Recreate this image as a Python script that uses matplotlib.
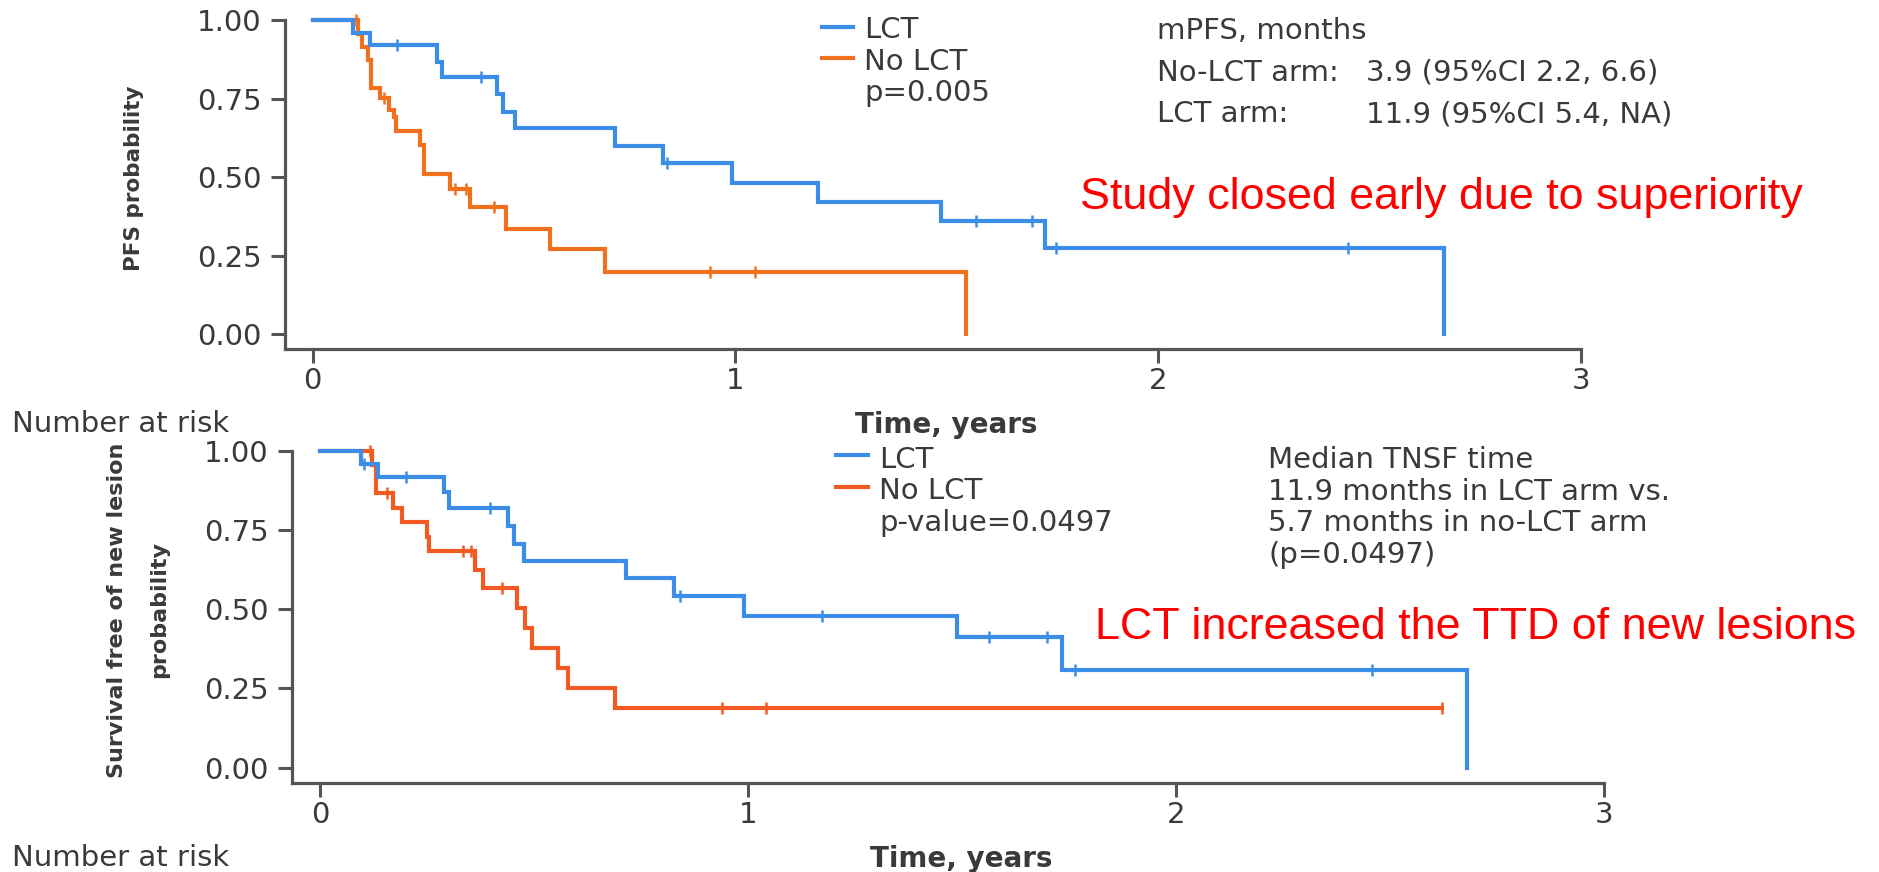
import numpy as np
import matplotlib
matplotlib.use("Agg")
import matplotlib.pyplot as plt
from matplotlib.lines import Line2D

# ---------------- data ----------------
# Top panel: PFS
pfs_lct_t = [0, 0.095, 0.136, 0.295, 0.306, 0.436, 0.450, 0.478, 0.716, 0.830, 0.992, 1.196, 1.487, 1.733, 2.677]
pfs_lct_s = [1.0, 0.96, 0.92, 0.867, 0.819, 0.766, 0.708, 0.655, 0.600, 0.545, 0.482, 0.421, 0.361, 0.273, 0.0]
pfs_lct_cens = [0.199, 0.398, 0.838, 1.570, 1.701, 1.758, 2.450]

pfs_no_t = [0, 0.108, 0.116, 0.132, 0.138, 0.160, 0.182, 0.193, 0.197, 0.254, 0.264, 0.326, 0.372, 0.458, 0.562, 0.692, 1.546]
pfs_no_s = [1.0, 0.957, 0.915, 0.873, 0.783, 0.751, 0.713, 0.692, 0.648, 0.602, 0.510, 0.461, 0.404, 0.336, 0.270, 0.199, 0.0]
pfs_no_cens = [0.103, 0.170, 0.337, 0.362, 0.430, 0.939, 1.046]

# Bottom panel: survival free of new lesion
nl_lct_t = [0, 0.095, 0.134, 0.289, 0.300, 0.438, 0.452, 0.476, 0.714, 0.826, 0.990, 1.489, 1.734, 2.680]
nl_lct_s = [1.0, 0.957, 0.916, 0.870, 0.818, 0.762, 0.707, 0.652, 0.597, 0.541, 0.478, 0.411, 0.308, 0.0]
nl_lct_cens = [0.102, 0.200, 0.397, 0.841, 1.172, 1.562, 1.698, 1.763, 2.457]

nl_no_t = [0, 0.120, 0.130, 0.171, 0.192, 0.249, 0.255, 0.362, 0.380, 0.461, 0.479, 0.496, 0.556, 0.580, 0.689, 2.621]
nl_no_s = [1.0, 0.955, 0.866, 0.818, 0.776, 0.729, 0.684, 0.624, 0.568, 0.503, 0.440, 0.377, 0.314, 0.250, 0.187, 0.187]
nl_no_cens = [0.116, 0.157, 0.334, 0.352, 0.424, 0.938, 1.042, 2.621]

x_ticks = [0, 1, 2, 3]
x_ticklabels = ["0", "1", "2", "3"]
y_ticks = [0.0, 0.25, 0.5, 0.75, 1.0]
y_ticklabels = ["0.00", "0.25", "0.50", "0.75", "1.00"]

legend_labels = ["LCT", "No LCT"]
top_p = "p=0.005"
bot_p = "p-value=0.0497"
top_block = ["mPFS, months", "No-LCT arm:", "LCT arm:"]
top_block_vals = ["3.9 (95%CI 2.2, 6.6)", "11.9 (95%CI 5.4, NA)"]
bot_block = ["Median TNSF time", "11.9 months in LCT arm vs.",
             "5.7 months in no-LCT arm", "(p=0.0497)"]
top_red = "Study closed early due to superiority"
bot_red = "LCT increased the TTD of new lesions"

# ---------------- style ----------------
BLUE = "#3B8DE8"
ORANGE_TOP = "#F0701E"
ORANGE_BOT = "#F15B22"
GRAY = "#3a3a3a"
AXC = "#555555"
RED = "#FF0000"
SANS = "DejaVu Sans"
TXT = 21

W, H = 1879, 872
DPI = 100
fig = plt.figure(figsize=(W / DPI, H / DPI), dpi=DPI)
fig.patch.set_facecolor("white")


def add_axes_px(x0px, pxyr, y0px, pxunit, xlim, ylim):
    left = x0px + xlim[0] * pxyr
    right = x0px + xlim[1] * pxyr
    bottom = y0px - ylim[0] * pxunit
    top = y0px - ylim[1] * pxunit
    ax = fig.add_axes([left / W, 1 - bottom / H, (right - left) / W, (bottom - top) / H])
    ax.set_xlim(*xlim)
    ax.set_ylim(*ylim)
    return ax


def style_axes(ax, xlim, ylim):
    for s in ("top", "right"):
        ax.spines[s].set_visible(False)
    for s in ("left", "bottom"):
        ax.spines[s].set_color(AXC)
        ax.spines[s].set_linewidth(2.3)
    ax.spines["left"].set_bounds(ylim[0], 1.0)
    ax.spines["bottom"].set_bounds(xlim[0], 3.0)
    ax.set_xticks(x_ticks)
    ax.set_xticklabels(x_ticklabels)
    ax.set_yticks(y_ticks)
    ax.set_yticklabels(y_ticklabels)
    ax.tick_params(axis="both", length=10, width=2.2, color=AXC, labelsize=21,
                   labelcolor=GRAY)
    ax.tick_params(axis="x", pad=3)
    ax.tick_params(axis="y", pad=7)
    for lab in ax.get_xticklabels() + ax.get_yticklabels():
        lab.set_family(SANS)
    ax.patch.set_alpha(0)


def km(ax, t, s, cens, color):
    t = np.asarray(t, float)
    s = np.asarray(s, float)
    ax.step(t, s, where="post", color=color, lw=3.0, solid_joinstyle="miter",
            clip_on=False)
    c = np.asarray(cens, float)
    idx = np.searchsorted(t, c, side="right") - 1
    ax.plot(c, s[idx], ls="none", marker="|", ms=8, mew=1.8, color=color,
            clip_on=False)


def ftext(x, ycap, s, size, family=SANS, weight="normal", color=GRAY,
          ha="left", capfrac=0.729):
    base = ycap + capfrac * size * DPI / 72 / 2
    fig.text(x / W, 1 - base / H, s, fontsize=size, family=family,
             weight=weight, color=color, ha=ha, va="baseline")


def leg_line(x0, x1, y, color):
    fig.add_artist(Line2D([x0 / W, x1 / W], [1 - y / H, 1 - y / H],
                          transform=fig.transFigure, color=color, lw=3.0))


# ---------------- top panel ----------------
xl_t, yl_t = (-0.065, 3.0), (-0.048, 1.03)
ax1 = add_axes_px(312.5, 422.8, 334.3, 314.3, xl_t, yl_t)
style_axes(ax1, xl_t, yl_t)
km(ax1, pfs_no_t, pfs_no_s, pfs_no_cens, ORANGE_TOP)
km(ax1, pfs_lct_t, pfs_lct_s, pfs_lct_cens, BLUE)

fig.text(134 / W, 1 - 178.5 / H, "PFS probability", rotation=90, ha="center",
         va="center", fontsize=15.5, weight="bold", family=SANS, color=GRAY)

leg_line(822, 853, 27, BLUE)
leg_line(822, 853, 58, ORANGE_TOP)
ftext(864, 27.3, legend_labels[0], TXT)
ftext(864, 59.3, legend_labels[1], TXT)
ftext(864, 90.5, top_p, TXT)

ftext(1157, 28.3, top_block[0], TXT)
ftext(1157, 70.0, top_block[1], TXT)
ftext(1157, 111.7, top_block[2], TXT)
ftext(1366, 70.0, top_block_vals[0], TXT)
ftext(1366, 111.7, top_block_vals[1], TXT)

ftext(1080, 192.5, top_red, 32.3, family="Liberation Sans", color=RED,
      capfrac=0.716)

ftext(12, 421, "Number at risk", TXT)
ftext(946, 423, "Time, years", 20, weight="bold", ha="center")

# ---------------- bottom panel ----------------
xl_b, yl_b = (-0.066, 3.0), (-0.0473, 1.03)
ax2 = add_axes_px(320.2, 427.9, 767.7, 317.0, xl_b, yl_b)
style_axes(ax2, xl_b, yl_b)
km(ax2, nl_no_t, nl_no_s, nl_no_cens, ORANGE_BOT)
km(ax2, nl_lct_t, nl_lct_s, nl_lct_cens, BLUE)

fig.text(117 / W, 1 - 610 / H, "Survival free of new lesion", rotation=90,
         ha="center", va="center", fontsize=16, weight="bold", family=SANS,
         color=GRAY)
fig.text(159 / W, 1 - 610 / H, "probability", rotation=90,
         ha="center", va="center", fontsize=16, weight="bold", family=SANS,
         color=GRAY)

leg_line(836, 868, 455, BLUE)
leg_line(836, 868, 486.7, ORANGE_BOT)
ftext(879, 457.3, legend_labels[0], TXT)
ftext(879, 488.3, legend_labels[1], TXT)
ftext(879, 520.0, bot_p, TXT)

for line, yc in zip(bot_block, [457.7, 489.0, 520.7, 552.7]):
    ftext(1268.5, yc, line, TXT)

ftext(1095, 622.5, bot_red, 32.3, family="Liberation Sans", color=RED,
      capfrac=0.716)

ftext(12, 855.5, "Number at risk", TXT)
ftext(961.5, 856.7, "Time, years", 20, weight="bold", ha="center")

fig.savefig("out.png", dpi=DPI, facecolor="white")
